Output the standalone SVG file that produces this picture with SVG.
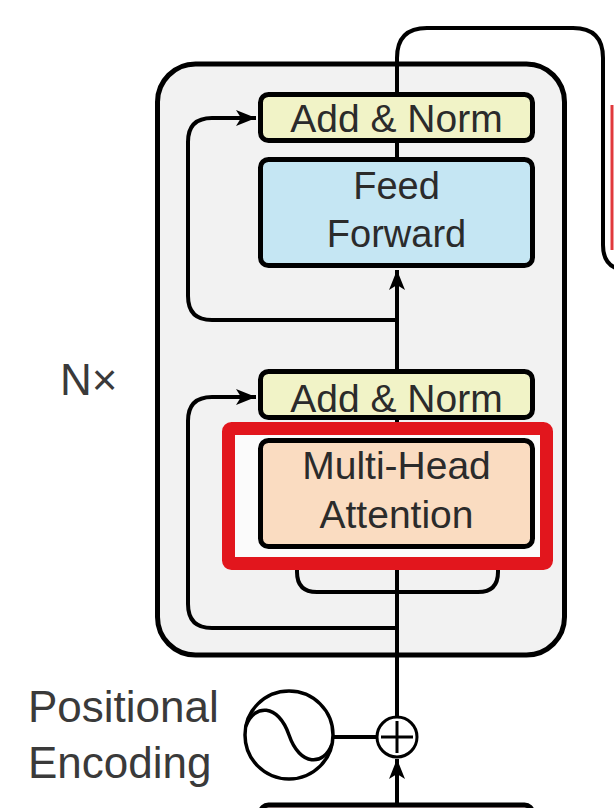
<svg xmlns="http://www.w3.org/2000/svg" width="614" height="808" viewBox="0 0 614 808">
  <style>
    .box { stroke: #000; stroke-width: 5; }
    .lbl { font-family: "Liberation Sans", Arial, sans-serif; font-size: 39px; fill: #2b2b2b; text-anchor: middle; }
    .side { font-family: "Liberation Sans", Arial, sans-serif; font-size: 44px; fill: #3a3a3a; }
    .wire { fill: none; stroke: #000; stroke-width: 4; }
    .addnorm { fill: #f1f3c7; }
    .ff { fill: #c5e6f3; }
    .mha { fill: #fadcc1; }
  </style>
  <defs>
    <marker id="arr" markerUnits="userSpaceOnUse" markerWidth="22" markerHeight="18" refX="20" refY="8" orient="auto">
      <path d="M0,0 L20,8 L0,16 L5,8 z" fill="#000"/>
    </marker>
  </defs>

  <rect width="614" height="808" fill="#fff"/>

  <g id="encoder-stack">
    <rect x="157.5" y="64" width="407" height="591" rx="38" fill="#f2f2f2" stroke="#000" stroke-width="5"/>
  </g>

  <g id="connectors">
    <!-- output loop to decoder -->
    <path class="wire" d="M397 94 V58 Q397 28 427 28 H573 Q603 28 603 58 V245 Q603 270 628 270"/>
    <!-- add&norm1 to FF -->
    <path class="wire" d="M397 143 V158"/>
    <!-- add&norm2 to FF -->
    <path class="wire" d="M397 370 V270" marker-end="url(#arr)"/>
    <!-- residual around FF -->
    <path class="wire" d="M397 320 H212 Q188 320 188 296 V142 Q188 118 212 118 H256" marker-end="url(#arr)"/>
    <!-- residual around MHA -->
    <path class="wire" d="M397 628 H212 Q188 628 188 604 V421 Q188 397 212 397 H256" marker-end="url(#arr)"/>
    <!-- main input into MHA -->
    <path class="wire" d="M397 717 V550" marker-end="url(#arr)"/>
    <!-- split to K and V -->
    <path class="wire" d="M397 592 H317 Q297 592 297 572 V550" marker-end="url(#arr)"/>
    <path class="wire" d="M397 592 H478 Q498 592 498 572 V550" marker-end="url(#arr)"/>
    <!-- MHA to add&norm2 -->
    <path class="wire" d="M397 420 V438"/>
    <!-- positional encoding to sum -->
    <path class="wire" d="M333 737 H377"/>
    <!-- embedding to sum -->
    <path class="wire" d="M397 808 V759" marker-end="url(#arr)"/>
  </g>

  <rect x="228.5" y="428.5" width="318" height="135" fill="#fbfbfb"/>

  <g id="add-norm-1">
    <rect class="box addnorm" x="260.5" y="94.5" width="272" height="46" rx="8"/>
    <text class="lbl" x="396.5" y="132">Add &amp; Norm</text>
  </g>

  <g id="feed-forward">
    <rect class="box ff" x="260.5" y="159.5" width="272" height="106" rx="8"/>
    <text class="lbl" x="396.5" y="199" style="font-size:38px">Feed</text>
    <text class="lbl" x="396.5" y="247" style="font-size:38px">Forward</text>
  </g>

  <g id="add-norm-2">
    <rect class="box addnorm" x="260.5" y="371.5" width="272" height="46" rx="8"/>
    <text class="lbl" x="396.5" y="412">Add &amp; Norm</text>
  </g>

  <g id="multi-head-attention">
    <rect class="box mha" x="260.5" y="440.5" width="272" height="106" rx="8"/>
    <text class="lbl" x="396.5" y="479">Multi-Head</text>
    <text class="lbl" x="396.5" y="528">Attention</text>
  </g>

  <g id="highlight">
    <rect x="228.5" y="428.5" width="318" height="135" rx="3" fill="none" stroke="#e2161d" stroke-width="13"/>
    <path d="M612 105 V250" fill="none" stroke="#e0393c" stroke-width="3"/>
  </g>

  <g id="nx-label">
    <text class="side" x="60" y="395">N×</text>
  </g>

  <g id="positional-encoding">
    <text class="side" x="28" y="722">Positional</text>
    <text class="side" x="28" y="778">Encoding</text>
    <circle cx="289" cy="735" r="44" fill="#fff" stroke="#000" stroke-width="3.5"/>
    <path d="M246 726 C254 704 278 703 289 735 C300 767 324 766 332 744" fill="none" stroke="#000" stroke-width="3.5"/>
  </g>

  <g id="sum">
    <circle cx="397" cy="737" r="20" fill="#fff" stroke="#000" stroke-width="3"/>
    <path d="M381 737 H413 M397 721 V753" stroke="#000" stroke-width="3"/>
  </g>

  <g id="input-embedding">
    <rect x="260.5" y="805" width="272" height="40" rx="8" fill="#f7d6d9" stroke="#000" stroke-width="5"/>
  </g>
</svg>
